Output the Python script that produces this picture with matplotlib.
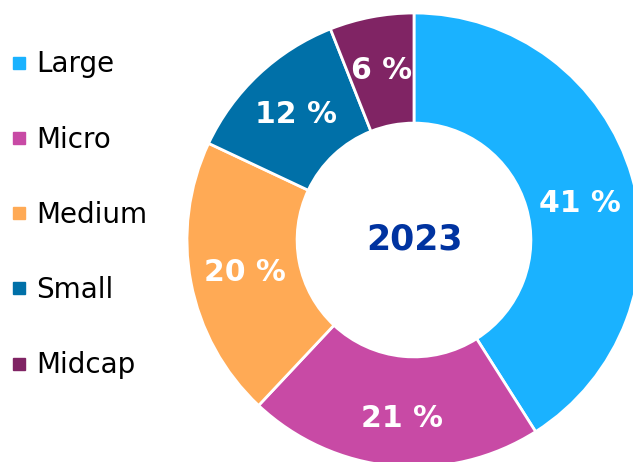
import matplotlib.pyplot as plt
from matplotlib.lines import Line2D

segments = ['Large', 'Micro', 'Medium', 'Small', 'Midcap']
shares = [41, 21, 20, 12, 6]
colors = ['#1AB2FF', '#C84AA5', '#FFAA55', '#0070A8', '#802464']
year = '2023'

W, H = 633, 462
cx, cy, R = 414, 240, 227  # pie centre and outer radius in pixels

fig = plt.figure(figsize=(W / 100, H / 100), dpi=100)
ax = fig.add_axes([0, 0, 1, 1])

wedges, texts, autotexts = ax.pie(
    shares, colors=colors, startangle=90, counterclock=False,
    radius=1, autopct=lambda p: f'{p:.0f} %', pctdistance=0.76,
    wedgeprops=dict(width=0.485, edgecolor='white', linewidth=2),
    textprops=dict(color='white', fontsize=21.5, fontweight='bold'))

# nudge the big label a bit, like the original
x, y = autotexts[0].get_position()
autotexts[0].set_position((x, y - 0.05))
x, y = autotexts[1].get_position()
autotexts[1].set_position((x + 0.02, y - 0.03))

ax.text(0, 0, year, ha='center', va='center', fontsize=25,
        fontweight='bold', color='#0033A0')

ax.set_xlim(-cx / R, (W - cx) / R)
ax.set_ylim(-(H - cy) / R, cy / R)
ax.set_aspect('equal', adjustable='box')
ax.axis('off')

handles = [Line2D([], [], marker='s', linestyle='none', markersize=8,
                  markerfacecolor=c, markeredgecolor=c) for c in colors]
fig.legend(handles, segments, loc='upper left', bbox_to_anchor=(0.0, 0.915),
           frameon=False, fontsize=20, handlelength=0.6, handletextpad=0.3,
           labelspacing=1.7, borderaxespad=0.0)

fig.savefig('out.png', dpi=100)
